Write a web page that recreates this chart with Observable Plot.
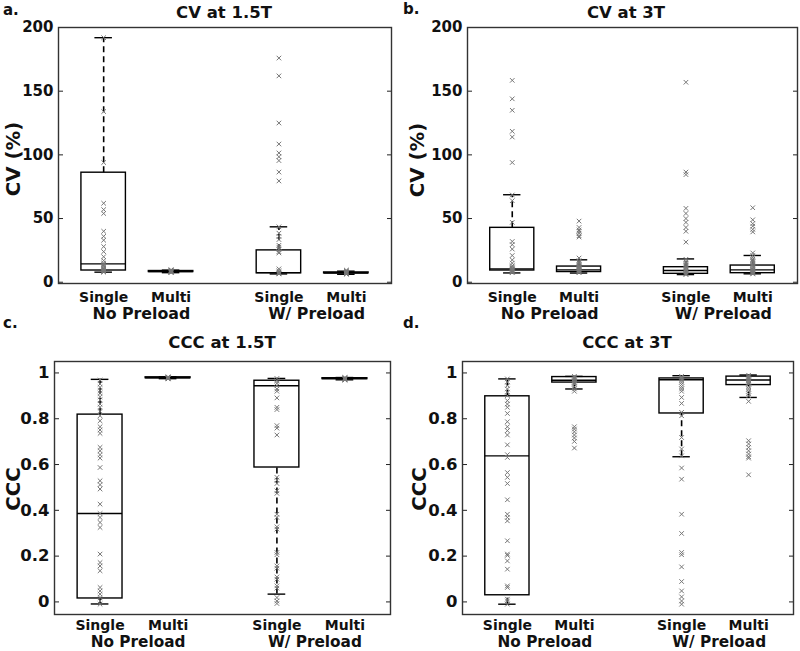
<!DOCTYPE html>
<html><head><meta charset="utf-8">
<script src="https://cdn.jsdelivr.net/npm/d3@7"></script>
<script src="https://cdn.jsdelivr.net/npm/@observablehq/plot@0.6"></script>
<style>
body{margin:0;background:#fff;}
#fig{position:relative;width:800px;height:651px;overflow:hidden;font-family:"DejaVu Sans",sans-serif;}
#fig div.p{position:absolute;}
#ov{position:absolute;left:0;top:0;pointer-events:none;}
#ov text{font-family:"DejaVu Sans",sans-serif;font-weight:bold;fill:#111;}
</style></head><body><div id="fig"></div>
<script>
// ---- categories / labels ----
const positions = [1, 2, 3.6, 4.6];
const boxLabels = ["Single", "Multi", "Single", "Multi"];
const preloadLabels = ["No Preload", "W/ Preload"];
const preloadPos = [1.5, 4.1];
const cvTicks = [0, 50, 100, 150, 200];
const cccTicks = [0, 0.2, 0.4, 0.6, 0.8, 1];
const panelTitles = ["CV at 1.5T", "CV at 3T", "CCC at 1.5T", "CCC at 3T"];
const panelLetters = ["a.", "b.", "c.", "d."];
const yLabels = ["CV (%)", "CV (%)", "CCC", "CCC"];

// ---- panel a: CV at 1.5T ----
const cv15Lo  = [7.9, 7.5, 6.5, 6.2];
const cv15Q1  = [9.2, 8.0, 7.0, 7.0];
const cv15Med = [14.4, 8.4, 7.5, 7.3];
const cv15Q3  = [86, 8.8, 25, 7.7];
const cv15Hi  = [192, 9.5, 43.5, 8.7];
const cv15Points = [
  [192, 134, 94, 62, 57, 54, 40, 36, 33, 28, 24, 20, 17, 15, 14, 13, 12, 11, 10.5, 10, 9.5, 9, 8.5, 8.2, 8],
  [7.6, 7.8, 8, 8.1, 8.2, 8.3, 8.4, 8.5, 8.6, 8.8, 9, 9.3, 9.6, 9.8],
  [176, 162, 125, 108.5, 101.5, 98.5, 95.5, 86.5, 79.5, 43.5, 38.5, 36, 33.5, 29, 27.5, 26, 24, 23, 10.5, 9, 8, 7.2, 6.8, 6.5],
  [6.3, 6.6, 6.9, 7, 7.1, 7.2, 7.4, 7.6, 7.8, 8.1, 8.5, 9, 9.5]
];

// ---- panel b: CV at 3T ----
const cv3Lo  = [7.3, 7.2, 6.0, 6.6];
const cv3Q1  = [9.2, 8.0, 6.6, 7.1];
const cv3Med = [10.5, 9.7, 9.2, 9.7];
const cv3Q3  = [42.7, 12.3, 11.8, 13.1];
const cv3Hi  = [68.7, 17.6, 18.3, 21];
const cv3Points = [
  [158.5, 144, 135, 118.5, 114, 94, 68.5, 64, 47, 32, 29.5, 26, 21, 17.5, 15, 13, 12, 11, 10.5, 10, 9.5, 9, 8.5, 8, 7.5],
  [48, 43, 41, 40, 38.5, 36.5, 35.5, 19, 17, 16, 15, 14, 13, 12.5, 12, 11, 10.5, 10, 9.5, 9, 8.5, 8, 7.5],
  [157, 86.5, 84.5, 58, 54, 50, 47, 43, 40, 31.5, 18, 16, 15, 14, 13, 12, 11, 10, 9, 8.5, 8, 7, 6.5, 6],
  [58.5, 49, 46, 44, 41.5, 39.5, 23, 21, 19.5, 18, 17, 16, 15, 14, 13, 12, 11, 10, 9.5, 9, 8.5, 8, 7.5, 7, 6.5]
];

// ---- panel c: CCC at 1.5T ----
const ccc15Lo  = [-0.009, 0.975, 0.034, 0.970];
const ccc15Q1  = [0.015, 0.977, 0.587, 0.973];
const ccc15Med = [0.386, 0.979, 0.944, 0.975];
const ccc15Q3  = [0.818, 0.981, 0.966, 0.977];
const ccc15Hi  = [0.972, 0.983, 0.976, 0.980];
const ccc15Points = [
  [0.969, 0.952, 0.937, 0.923, 0.911, 0.896, 0.882, 0.864, 0.850, 0.832, 0.813, 0.791, 0.765, 0.751, 0.736, 0.675, 0.660, 0.643, 0.628, 0.587, 0.529, 0.512, 0.493, 0.427, 0.386, 0.369, 0.347, 0.325, 0.209, 0.172, 0.157, 0.136, 0.063, 0.048, 0.034, 0.019, 0.004, -0.010],
  [0.974, 0.976, 0.977, 0.978, 0.979, 0.980, 0.981, 0.982, 0.983],
  [0.976, 0.966, 0.955, 0.944, 0.930, 0.920, 0.891, 0.850, 0.840, 0.770, 0.759, 0.729, 0.544, 0.532, 0.517, 0.485, 0.474, 0.383, 0.369, 0.328, 0.318, 0.216, 0.206, 0.157, 0.147, 0.109, 0.099, 0.070, 0.060, 0.019, 0.004, -0.007],
  [0.969, 0.971, 0.972, 0.973, 0.974, 0.975, 0.976, 0.977, 0.978, 0.980]
];

// ---- panel d: CCC at 3T ----
const ccc3Lo  = [-0.010, 0.930, 0.634, 0.893];
const ccc3Q1  = [0.029, 0.958, 0.823, 0.947];
const ccc3Med = [0.638, 0.968, 0.970, 0.969];
const ccc3Q3  = [0.898, 0.982, 0.976, 0.984];
const ccc3Hi  = [0.974, 0.985, 0.988, 0.991];
const ccc3Points = [
  [0.974, 0.960, 0.945, 0.930, 0.916, 0.901, 0.879, 0.864, 0.850, 0.823, 0.787, 0.765, 0.748, 0.729, 0.686, 0.643, 0.631, 0.565, 0.544, 0.517, 0.446, 0.383, 0.369, 0.354, 0.267, 0.209, 0.203, 0.179, 0.143, 0.070, 0.063, 0.012, 0.004, -0.010],
  [0.985, 0.980, 0.975, 0.970, 0.965, 0.960, 0.955, 0.950, 0.940, 0.930, 0.920, 0.765, 0.755, 0.743, 0.729, 0.716, 0.701, 0.672],
  [0.985, 0.980, 0.975, 0.970, 0.960, 0.950, 0.940, 0.930, 0.920, 0.893, 0.867, 0.828, 0.813, 0.718, 0.668, 0.638, 0.585, 0.536, 0.383, 0.299, 0.216, 0.206, 0.153, 0.089, 0.048, 0.022, 0.004, -0.010],
  [0.990, 0.985, 0.980, 0.975, 0.970, 0.965, 0.960, 0.955, 0.950, 0.940, 0.930, 0.920, 0.910, 0.900, 0.876, 0.704, 0.690, 0.675, 0.660, 0.646, 0.634, 0.628, 0.555]
];

// ---- layout (pixels) ----
const layouts = [
  {left: 0,   top: 0,   height: 325, mL: 58, mR: 9,  mT: 27, mB: 42, d1: 18.5, d2: 35, tick: 15, g: 15.8},
  {left: 400, top: 0,   height: 325, mL: 67, mR: 3,  mT: 27, mB: 42, d1: 18.5, d2: 35, tick: 15, g: 15.8},
  {left: 0,   top: 330, height: 321, mL: 54, mR: 10, mT: 31, mB: 37, d1: 15.5, d2: 32.5, tick: 16.5, g: 15.3},
  {left: 400, top: 330, height: 321, mL: 62, mR: 7,  mT: 31, mB: 37, d1: 15.5, d2: 32.5, tick: 16.5, g: 15.3}
];

const panels = [
  {lo: cv15Lo, q1: cv15Q1, med: cv15Med, q3: cv15Q3, hi: cv15Hi, pts: cv15Points, dom: [-1, 200], ticks: cvTicks},
  {lo: cv3Lo, q1: cv3Q1, med: cv3Med, q3: cv3Q3, hi: cv3Hi, pts: cv3Points, dom: [-1, 200], ticks: cvTicks},
  {lo: ccc15Lo, q1: ccc15Q1, med: ccc15Med, q3: ccc15Q3, hi: ccc15Hi, pts: ccc15Points, dom: [-0.055, 1.05], ticks: cccTicks},
  {lo: ccc3Lo, q1: ccc3Q1, med: ccc3Med, q3: ccc3Q3, hi: ccc3Hi, pts: ccc3Points, dom: [-0.055, 1.05], ticks: cccTicks}
];

const halfBox = 0.33, halfCap = 0.13;
const fig = document.getElementById("fig");
const FONT = '"DejaVu Sans", sans-serif';

panels.forEach((P, k) => {
  const L = layouts[k];
  const boxes = positions.map((x, i) => ({x, lo: P.lo[i], q1: P.q1[i], med: P.med[i], q3: P.q3[i], hi: P.hi[i], label: boxLabels[i]}));
  const pts = positions.flatMap((x, i) => P.pts[i].map(v => ({x, v})));
  const groups = preloadPos.map((x, i) => ({x, label: preloadLabels[i]}));
  const chart = Plot.plot({
    width: 400, height: L.height,
    marginLeft: L.mL, marginRight: L.mR, marginTop: L.mT, marginBottom: L.mB,
    style: {fontFamily: FONT, fontWeight: "bold", color: "#111", background: "#fff"},
    x: {domain: [0.33, 5.27], axis: null},
    y: {domain: P.dom, axis: null},
    marks: [
      Plot.axisY({anchor: "left", ticks: P.ticks, tickSize: 0, tickPadding: 5, tickFormat: d => String(d), fontSize: L.tick, fontWeight: "bold", label: null}),
      Plot.axisY({anchor: "left", ticks: P.ticks, tickSize: 5, dx: 5, tickFormat: () => "", label: null, stroke: "#222"}),
      Plot.axisY({anchor: "right", ticks: P.ticks, tickSize: 5, dx: -5, tickFormat: () => "", label: null, stroke: "#222"}),
      Plot.rect(boxes, {x1: d => d.x - halfBox, x2: d => d.x + halfBox, y1: "q1", y2: "q3", fill: "none", stroke: "#000", strokeWidth: 1.4}),
      Plot.ruleY(boxes, {x1: d => d.x - halfBox, x2: d => d.x + halfBox, y: "med", stroke: "#000", strokeWidth: 1.4}),
      Plot.ruleX(boxes, {x: "x", y1: "q3", y2: "hi", stroke: "#000", strokeWidth: 1.6, strokeDasharray: "6,4"}),
      Plot.ruleX(boxes, {x: "x", y1: "lo", y2: "q1", stroke: "#000", strokeWidth: 1.6, strokeDasharray: "6,4"}),
      Plot.ruleY(boxes, {x1: d => d.x - halfCap, x2: d => d.x + halfCap, y: "hi", stroke: "#000", strokeWidth: 1.4}),
      Plot.ruleY(boxes, {x1: d => d.x - halfCap, x2: d => d.x + halfCap, y: "lo", stroke: "#000", strokeWidth: 1.4}),
      Plot.dot(pts, {x: "x", y: "v", symbol: "times", r: 2.2, stroke: "#777", strokeWidth: 1}),
      Plot.frame({stroke: "#333", strokeWidth: 1.4}),
      Plot.text(boxes, {x: "x", text: "label", frameAnchor: "bottom", lineAnchor: "bottom", dy: L.d1, fontSize: 14, fontWeight: "bold", fill: "#111"}),
      Plot.text(groups, {x: "x", text: "label", frameAnchor: "bottom", lineAnchor: "bottom", dy: L.d2, dx: 4, fontSize: L.g, fontWeight: "bold", fill: "#111"})
    ]
  });
  const div = document.createElement("div");
  div.className = "p";
  div.style.left = L.left + "px";
  div.style.top = L.top + "px";
  div.appendChild(chart);
  fig.appendChild(div);
});

// overlay text: panel letters, titles, y labels
const letterPos = [[3, 15], [403, 14], [3, 328], [403, 328]];
const titlePos = [[224, 18.3], [626, 18.3], [222, 348.3], [627, 348.3]];
const ylabPos = [[20, 159], [424, 160], [20, 489], [426, 489]];
const ns = "http://www.w3.org/2000/svg";
const ov = document.createElementNS(ns, "svg");
ov.setAttribute("id", "ov");
ov.setAttribute("width", 800);
ov.setAttribute("height", 651);
function addText(str, x, y, size, anchor, rot) {
  const t = document.createElementNS(ns, "text");
  t.textContent = str;
  t.setAttribute("font-size", size);
  t.setAttribute("text-anchor", anchor);
  if (rot) t.setAttribute("transform", `translate(${x},${y}) rotate(-90)`);
  else { t.setAttribute("x", x); t.setAttribute("y", y); }
  ov.appendChild(t);
}
for (let k = 0; k < 4; k++) {
  addText(panelLetters[k], letterPos[k][0], letterPos[k][1], 15, "start", false);
  addText(panelTitles[k], titlePos[k][0], titlePos[k][1], 16.5, "middle", false);
  addText(yLabels[k], ylabPos[k][0], ylabPos[k][1], 19.7, "middle", true);
}
fig.appendChild(ov);
</script></body></html>
